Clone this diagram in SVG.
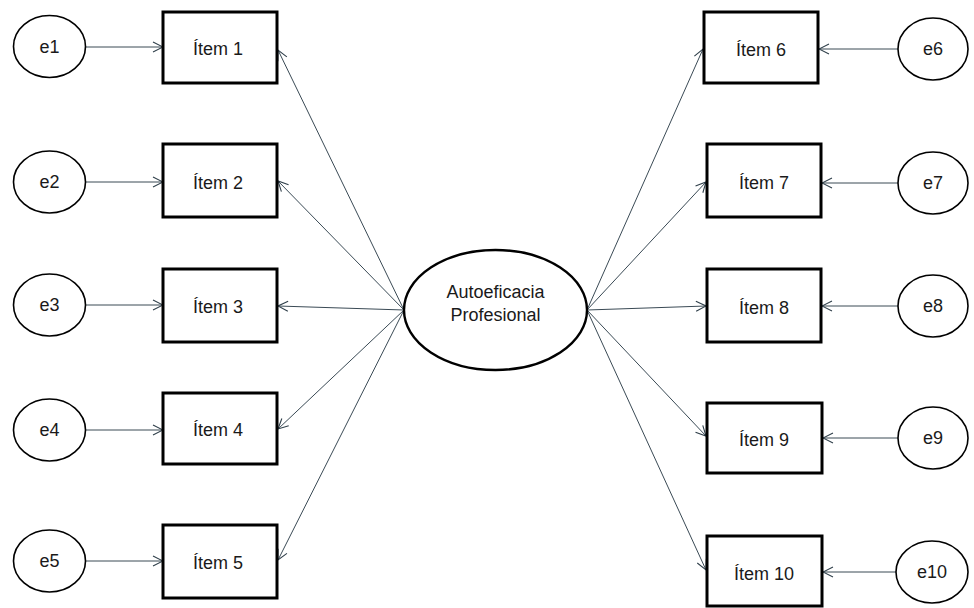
<svg xmlns="http://www.w3.org/2000/svg" width="974" height="608" viewBox="0 0 974 608">
<defs>
<marker id="ah" viewBox="0 0 12 12" refX="11" refY="6" markerWidth="12" markerHeight="12" markerUnits="userSpaceOnUse" orient="auto">
<path d="M1,1 L11,6 L1,11" fill="none" stroke="#2f3f4a" stroke-width="1.1"/>
</marker>
<style>
.box{fill:#fff;stroke:#000;stroke-width:3}
.err{fill:#fff;stroke:#000;stroke-width:1.6}
.lat{fill:#fff;stroke:#000;stroke-width:2.4}
.t{font-family:"Liberation Sans",Arial,sans-serif;font-size:18px;fill:#1a1a1a;text-anchor:middle;dominant-baseline:central}
.c{fill:none;stroke:#3a4a55;stroke-width:1;marker-end:url(#ah)}
</style>
</defs>
<rect width="974" height="608" fill="#fff"/>
<g id="connectors">
<line class="c" x1="86" y1="47" x2="163" y2="47"/>
<line class="c" x1="86" y1="182" x2="163" y2="182"/>
<line class="c" x1="86" y1="305" x2="163" y2="305"/>
<line class="c" x1="86" y1="430" x2="163" y2="430"/>
<line class="c" x1="86" y1="561" x2="163" y2="561"/>
<line class="c" x1="898" y1="49" x2="819" y2="49"/>
<line class="c" x1="898" y1="183" x2="822" y2="183"/>
<line class="c" x1="898" y1="306" x2="822" y2="306"/>
<line class="c" x1="898" y1="438" x2="823" y2="438"/>
<line class="c" x1="896" y1="572" x2="823" y2="572"/>
<line class="c" x1="404" y1="310" x2="278" y2="50"/>
<line class="c" x1="404" y1="310" x2="278" y2="181"/>
<line class="c" x1="404" y1="310" x2="278" y2="306"/>
<line class="c" x1="404" y1="310" x2="278" y2="429"/>
<line class="c" x1="404" y1="310" x2="278" y2="560"/>
<line class="c" x1="587" y1="310" x2="703" y2="49"/>
<line class="c" x1="587" y1="310" x2="706" y2="182"/>
<line class="c" x1="587" y1="310" x2="706" y2="306"/>
<line class="c" x1="587" y1="310" x2="706" y2="436"/>
<line class="c" x1="587" y1="310" x2="706" y2="570"/>
</g>
<g id="e1"><ellipse class="err" cx="49.5" cy="46.5" rx="36" ry="31"/><text class="t" x="49.5" y="46.5">e1</text></g>
<g id="e2"><ellipse class="err" cx="49.5" cy="182" rx="36" ry="31"/><text class="t" x="49.5" y="182">e2</text></g>
<g id="e3"><ellipse class="err" cx="49.5" cy="305" rx="36" ry="31"/><text class="t" x="49.5" y="305">e3</text></g>
<g id="e4"><ellipse class="err" cx="49.5" cy="430" rx="36" ry="31"/><text class="t" x="49.5" y="430">e4</text></g>
<g id="e5"><ellipse class="err" cx="49.5" cy="561" rx="36" ry="31"/><text class="t" x="49.5" y="561">e5</text></g>
<g id="item1"><rect class="box" x="163" y="12" width="114" height="71"/><text class="t" x="218" y="49">Ítem 1</text></g>
<g id="item2"><rect class="box" x="163" y="144" width="114" height="73"/><text class="t" x="218" y="183">Ítem 2</text></g>
<g id="item3"><rect class="box" x="163" y="269" width="114" height="73"/><text class="t" x="218" y="307">Ítem 3</text></g>
<g id="item4"><rect class="box" x="163" y="393" width="114" height="71"/><text class="t" x="218" y="430">Ítem 4</text></g>
<g id="item5"><rect class="box" x="163" y="525" width="114" height="73"/><text class="t" x="218" y="563">Ítem 5</text></g>
<g id="latent"><ellipse class="lat" cx="495.5" cy="310" rx="91.5" ry="60"/><text class="t" x="495.5" y="292">Autoeficacia</text><text class="t" x="495.5" y="315">Profesional</text></g>
<g id="item6"><rect class="box" x="704" y="12" width="114" height="71"/><text class="t" x="761" y="50">Ítem 6</text></g>
<g id="item7"><rect class="box" x="707" y="144" width="114" height="73"/><text class="t" x="764" y="183">Ítem 7</text></g>
<g id="item8"><rect class="box" x="707" y="269" width="114" height="73"/><text class="t" x="764" y="308">Ítem 8</text></g>
<g id="item9"><rect class="box" x="707" y="403" width="115" height="70"/><text class="t" x="764" y="440">Ítem 9</text></g>
<g id="item10"><rect class="box" x="707" y="536" width="115" height="70"/><text class="t" x="764" y="574">Ítem 10</text></g>
<g id="e6"><ellipse class="err" cx="933" cy="49" rx="35" ry="31"/><text class="t" x="933" y="49">e6</text></g>
<g id="e7"><ellipse class="err" cx="933" cy="183" rx="35" ry="31"/><text class="t" x="933" y="183">e7</text></g>
<g id="e8"><ellipse class="err" cx="933" cy="306" rx="35" ry="31"/><text class="t" x="933" y="306">e8</text></g>
<g id="e9"><ellipse class="err" cx="933" cy="438" rx="35" ry="31"/><text class="t" x="933" y="438">e9</text></g>
<g id="e10"><ellipse class="err" cx="932" cy="572" rx="36" ry="31"/><text class="t" x="932" y="572">e10</text></g>
</svg>
